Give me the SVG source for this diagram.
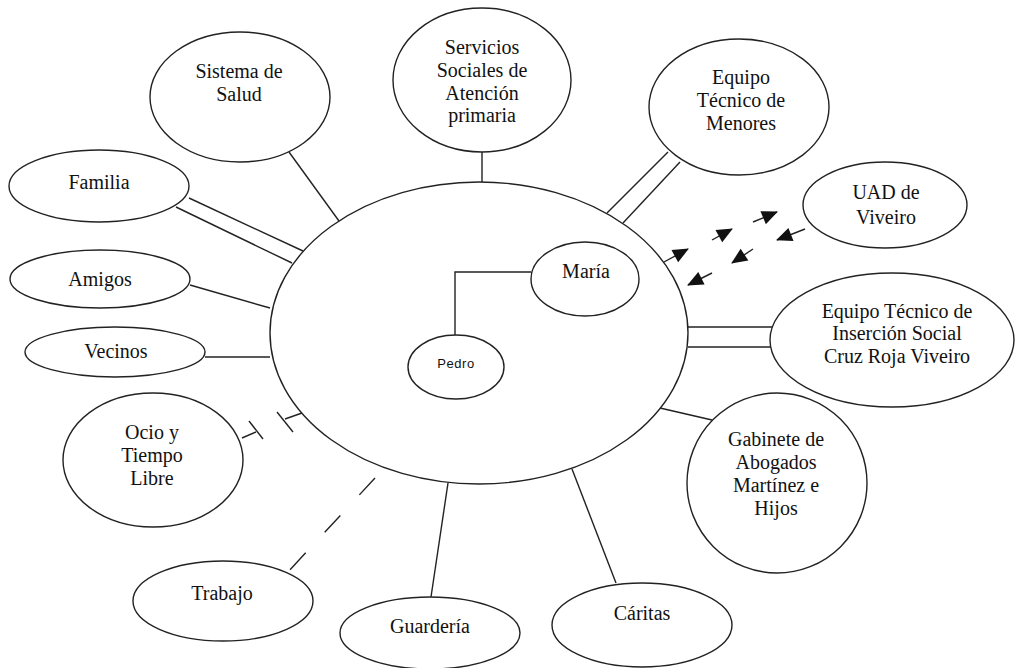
<svg xmlns="http://www.w3.org/2000/svg" width="1016" height="668" viewBox="0 0 1016 668">
<style>
.n{fill:#fff;stroke:#222;stroke-width:1.4}
.c{stroke:#222;stroke-width:1.4;fill:none}
.t{font-size:20px;fill:#111;text-anchor:middle}
.s{font-size:13px;fill:#111;text-anchor:middle;letter-spacing:0.6px}
</style>
<defs>
<marker id="ah" markerUnits="userSpaceOnUse" viewBox="0 0 16 14" markerWidth="16" markerHeight="14" refX="15" refY="7" orient="auto" overflow="visible">
<path d="M0,0 L16,7 L0,14 z" fill="#111"/>
</marker>
</defs>
<rect width="1016" height="668" fill="#fff"/>
<g id="connectors">
<line class="c" x1="289" y1="152" x2="339" y2="221"/>
<line class="c" x1="482" y1="152" x2="482" y2="182"/>
<line class="c" x1="668" y1="152" x2="607" y2="213"/>
<line class="c" x1="680" y1="162" x2="623" y2="223"/>
<line class="c" x1="189" y1="198" x2="303" y2="251"/>
<line class="c" x1="176" y1="207" x2="292" y2="263"/>
<line class="c" x1="190" y1="285" x2="270" y2="308"/>
<line class="c" x1="205" y1="357" x2="270" y2="357"/>
<line class="c" x1="688" y1="327" x2="773" y2="327"/>
<line class="c" x1="688" y1="347" x2="772" y2="347"/>
<line class="c" x1="660" y1="408" x2="712" y2="420"/>
<line class="c" x1="448" y1="483" x2="431" y2="597"/>
<line class="c" x1="572" y1="469" x2="616" y2="583"/>
<line class="c" x1="375" y1="478" x2="287" y2="573" stroke-dasharray="23 28"/>
<line class="c" x1="242" y1="438" x2="256" y2="432"/>
<line class="c" x1="249" y1="421" x2="263" y2="439"/>
<line class="c" x1="302" y1="413" x2="285" y2="419"/>
<line class="c" x1="277" y1="412" x2="293" y2="432"/>
<polyline class="c" points="531,272 455,272 455,335"/>
<line class="c" x1="664" y1="262" x2="688" y2="249" marker-end="url(#ah)"/>
<line class="c" x1="712" y1="240" x2="732" y2="229" marker-end="url(#ah)"/>
<line class="c" x1="753" y1="222" x2="777" y2="212" marker-end="url(#ah)"/>
<line class="c" x1="805" y1="229" x2="777" y2="240" marker-end="url(#ah)"/>
<line class="c" x1="753" y1="249" x2="732" y2="263" marker-end="url(#ah)"/>
<line class="c" x1="712" y1="273" x2="688" y2="285" marker-end="url(#ah)"/>
</g>
<g id="central"><ellipse class="n" cx="479" cy="333" rx="209" ry="151" fill-opacity="0"/></g>
<g font-family="'Liberation Serif', 'Times New Roman', Tinos, serif">
<g id="maria"><ellipse class="n" cx="585" cy="279" rx="54" ry="37"/><text class="t" x="586" y="278">María</text></g>
<g id="pedro"><ellipse class="n" cx="456" cy="367" rx="48" ry="32"/><text class="s" x="456" y="368" font-family="'Liberation Sans', Arial, sans-serif">Pedro</text></g>
<g id="salud"><ellipse class="n" cx="240" cy="97" rx="90" ry="65"/><text class="t" x="239" y="78">Sistema de</text><text class="t" x="239" y="101">Salud</text></g>
<g id="servicios"><ellipse class="n" cx="482" cy="80" rx="89" ry="72"/><text class="t" x="482" y="54">Servicios</text><text class="t" x="482" y="77">Sociales de</text><text class="t" x="482" y="100">Atención</text><text class="t" x="482" y="122">primaria</text></g>
<g id="menores"><ellipse class="n" cx="739" cy="107" rx="90" ry="68"/><text class="t" x="741" y="84">Equipo</text><text class="t" x="741" y="107">Técnico de</text><text class="t" x="741" y="130">Menores</text></g>
<g id="uad"><ellipse class="n" cx="885" cy="205" rx="82" ry="43"/><text class="t" x="886" y="199">UAD de</text><text class="t" x="886" y="224">Viveiro</text></g>
<g id="insercion"><ellipse class="n" cx="892" cy="340" rx="122" ry="67"/><text class="t" x="897" y="318">Equipo Técnico de</text><text class="t" x="897" y="340">Inserción Social</text><text class="t" x="897" y="363">Cruz Roja Viveiro</text></g>
<g id="gabinete"><ellipse class="n" cx="777" cy="483" rx="90" ry="90"/><text class="t" x="776" y="446">Gabinete de</text><text class="t" x="776" y="469">Abogados</text><text class="t" x="776" y="492">Martínez e</text><text class="t" x="776" y="515">Hijos</text></g>
<g id="caritas"><ellipse class="n" cx="642" cy="625" rx="90" ry="42"/><text class="t" x="642" y="620">Cáritas</text></g>
<g id="guarderia"><ellipse class="n" cx="430" cy="633" rx="90" ry="36"/><text class="t" x="430" y="633">Guardería</text></g>
<g id="trabajo"><ellipse class="n" cx="223" cy="601" rx="90" ry="40"/><text class="t" x="222" y="600">Trabajo</text></g>
<g id="ocio"><ellipse class="n" cx="153" cy="460" rx="90" ry="67"/><text class="t" x="152" y="439">Ocio y</text><text class="t" x="152" y="462">Tiempo</text><text class="t" x="152" y="485">Libre</text></g>
<g id="vecinos"><ellipse class="n" cx="115" cy="352" rx="90" ry="25"/><text class="t" x="116" y="358">Vecinos</text></g>
<g id="amigos"><ellipse class="n" cx="100" cy="279" rx="90" ry="29"/><text class="t" x="100" y="286">Amigos</text></g>
<g id="familia"><ellipse class="n" cx="99" cy="186" rx="90" ry="36"/><text class="t" x="99" y="189">Familia</text></g>
</g>
</svg>
